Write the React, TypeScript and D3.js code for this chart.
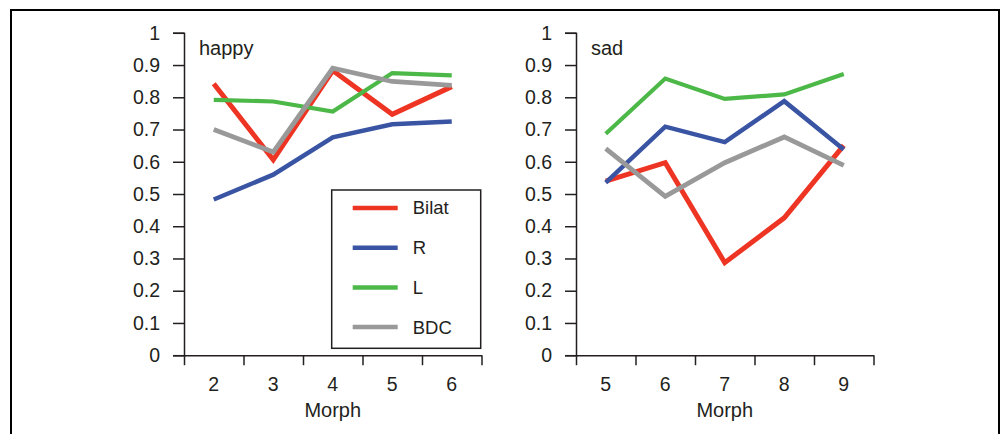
import React, { useRef, useEffect } from 'react';
import * as d3 from 'd3';

// happy panel, morphs 2..6
const happyMorphs = [2, 3, 4, 5, 6];
const happyBilat = [0.842, 0.606, 0.883, 0.747, 0.833];
const happyR = [0.483, 0.56, 0.676, 0.716, 0.725];
const happyL = [0.792, 0.787, 0.756, 0.875, 0.868];
const happyBDC = [0.7, 0.63, 0.89, 0.849, 0.837];

// sad panel, morphs 5..9
const sadMorphs = [5, 6, 7, 8, 9];
const sadBilat = [0.54, 0.597, 0.287, 0.426, 0.651];
const sadR = [0.535, 0.709, 0.661, 0.788, 0.638];
const sadL = [0.687, 0.858, 0.795, 0.809, 0.872];
const sadBDC = [0.641, 0.493, 0.597, 0.677, 0.589];

const seriesNames = ['Bilat', 'R', 'L', 'BDC'];
const yTicks = [0, 0.1, 0.2, 0.3, 0.4, 0.5, 0.6, 0.7, 0.8, 0.9, 1];

const colors: Record<string, string> = {
  Bilat: '#ee3524',
  R: '#3a54a4',
  L: '#4cb848',
  BDC: '#999999',
};
const widths: Record<string, number> = { Bilat: 5, R: 4.5, L: 4.2, BDC: 4.8 };

const ink = '#231f20';
const font = '"Liberation Sans", Arial, Helvetica, sans-serif';

const App = () => {
  const ref = useRef<SVGSVGElement>(null);

  useEffect(() => {
    const svg = d3.select(ref.current);
    svg.selectAll('*').remove();

    // outer frame
    svg.append('rect')
      .attr('x', 11).attr('y', 10).attr('width', 988).attr('height', 440)
      .attr('fill', 'none').attr('stroke', '#000').attr('stroke-width', 2);

    const panels = [
      { left: 184, title: 'happy', morphs: happyMorphs,
        series: { Bilat: happyBilat, R: happyR, L: happyL, BDC: happyBDC }, legend: true },
      { left: 576, title: 'sad', morphs: sadMorphs,
        series: { Bilat: sadBilat, R: sadR, L: sadL, BDC: sadBDC }, legend: false },
    ];

    const top = 32.8;
    const bottom = 355.2;
    const plotW = 297.5;

    panels.forEach((p) => {
      const g = svg.append('g');
      const y = d3.scaleLinear().domain([0, 1]).range([bottom, top]);
      const x = d3.scaleLinear()
        .domain([p.morphs[0] - 0.5, p.morphs[p.morphs.length - 1] + 0.5])
        .range([p.left, p.left + plotW]);

      // y axis
      const yAxis = d3.axisLeft(y)
        .tickValues(yTicks)
        .tickSize(11)
        .tickPadding(13)
        .tickFormat((d: any) => (d === 0 ? '0' : d === 1 ? '1' : d3.format('.1f')(d)));
      const ya = g.append('g').attr('transform', `translate(${p.left},0)`).call(yAxis);
      ya.select('.domain').attr('stroke', ink).attr('stroke-width', 1.5);
      ya.selectAll('.tick line').attr('stroke', ink).attr('stroke-width', 1.5);
      ya.selectAll('.tick text')
        .attr('fill', ink).style('font-family', font).style('font-size', '19.5px');

      // x axis: ticks at band edges, labels at centres
      const edges = [...p.morphs.map((m) => m - 0.5), p.morphs[p.morphs.length - 1] + 0.5];
      const xAxis = d3.axisBottom(x).tickValues(edges).tickSize(10).tickSizeOuter(0).tickFormat(() => '');
      const xa = g.append('g').attr('transform', `translate(0,${bottom})`).call(xAxis);
      xa.select('.domain').attr('stroke', ink).attr('stroke-width', 1.5);
      xa.selectAll('.tick line').attr('stroke', ink).attr('stroke-width', 1.5);

      g.selectAll('.xlab')
        .data(p.morphs)
        .enter()
        .append('text')
        .attr('x', (d) => x(d))
        .attr('y', 391)
        .attr('text-anchor', 'middle')
        .attr('fill', ink)
        .style('font-family', font)
        .style('font-size', '19.5px')
        .text((d) => d);

      g.append('text')
        .attr('x', p.left + plotW / 2)
        .attr('y', 417)
        .attr('text-anchor', 'middle')
        .attr('fill', ink)
        .style('font-family', font)
        .style('font-size', '20px')
        .text('Morph');

      g.append('text')
        .attr('x', p.left + 15)
        .attr('y', 55)
        .attr('fill', ink)
        .style('font-family', font)
        .style('font-size', '20px')
        .text(p.title);

      const line = d3.line<number>()
        .x((_, i) => x(p.morphs[i]))
        .y((d) => y(d));

      seriesNames.forEach((name) => {
        g.append('path')
          .datum((p.series as any)[name] as number[])
          .attr('d', line)
          .attr('fill', 'none')
          .attr('stroke', colors[name])
          .attr('stroke-width', widths[name])
          .attr('stroke-linejoin', 'miter');
      });

      if (p.legend) {
        const lg = g.append('g').attr('transform', 'translate(331.7,190)');
        lg.append('rect')
          .attr('width', 149).attr('height', 158.3)
          .attr('fill', '#fff').attr('stroke', ink).attr('stroke-width', 1.5);
        seriesNames.forEach((name, i) => {
          const cy = 18 + i * 39.7;
          lg.append('line')
            .attr('x1', 21).attr('x2', 66).attr('y1', cy).attr('y2', cy)
            .attr('stroke', colors[name]).attr('stroke-width', 4.5);
          lg.append('text')
            .attr('x', 81).attr('y', cy).attr('dy', '0.35em')
            .attr('fill', ink)
            .style('font-family', font)
            .style('font-size', '18.5px')
            .text(name);
        });
      }
    });
  }, []);

  return (
    <svg
      ref={ref}
      width={1001}
      height={434}
      style={{ position: 'absolute', left: 0, top: 0, background: '#fff' }}
    />
  );
};

export default App;
